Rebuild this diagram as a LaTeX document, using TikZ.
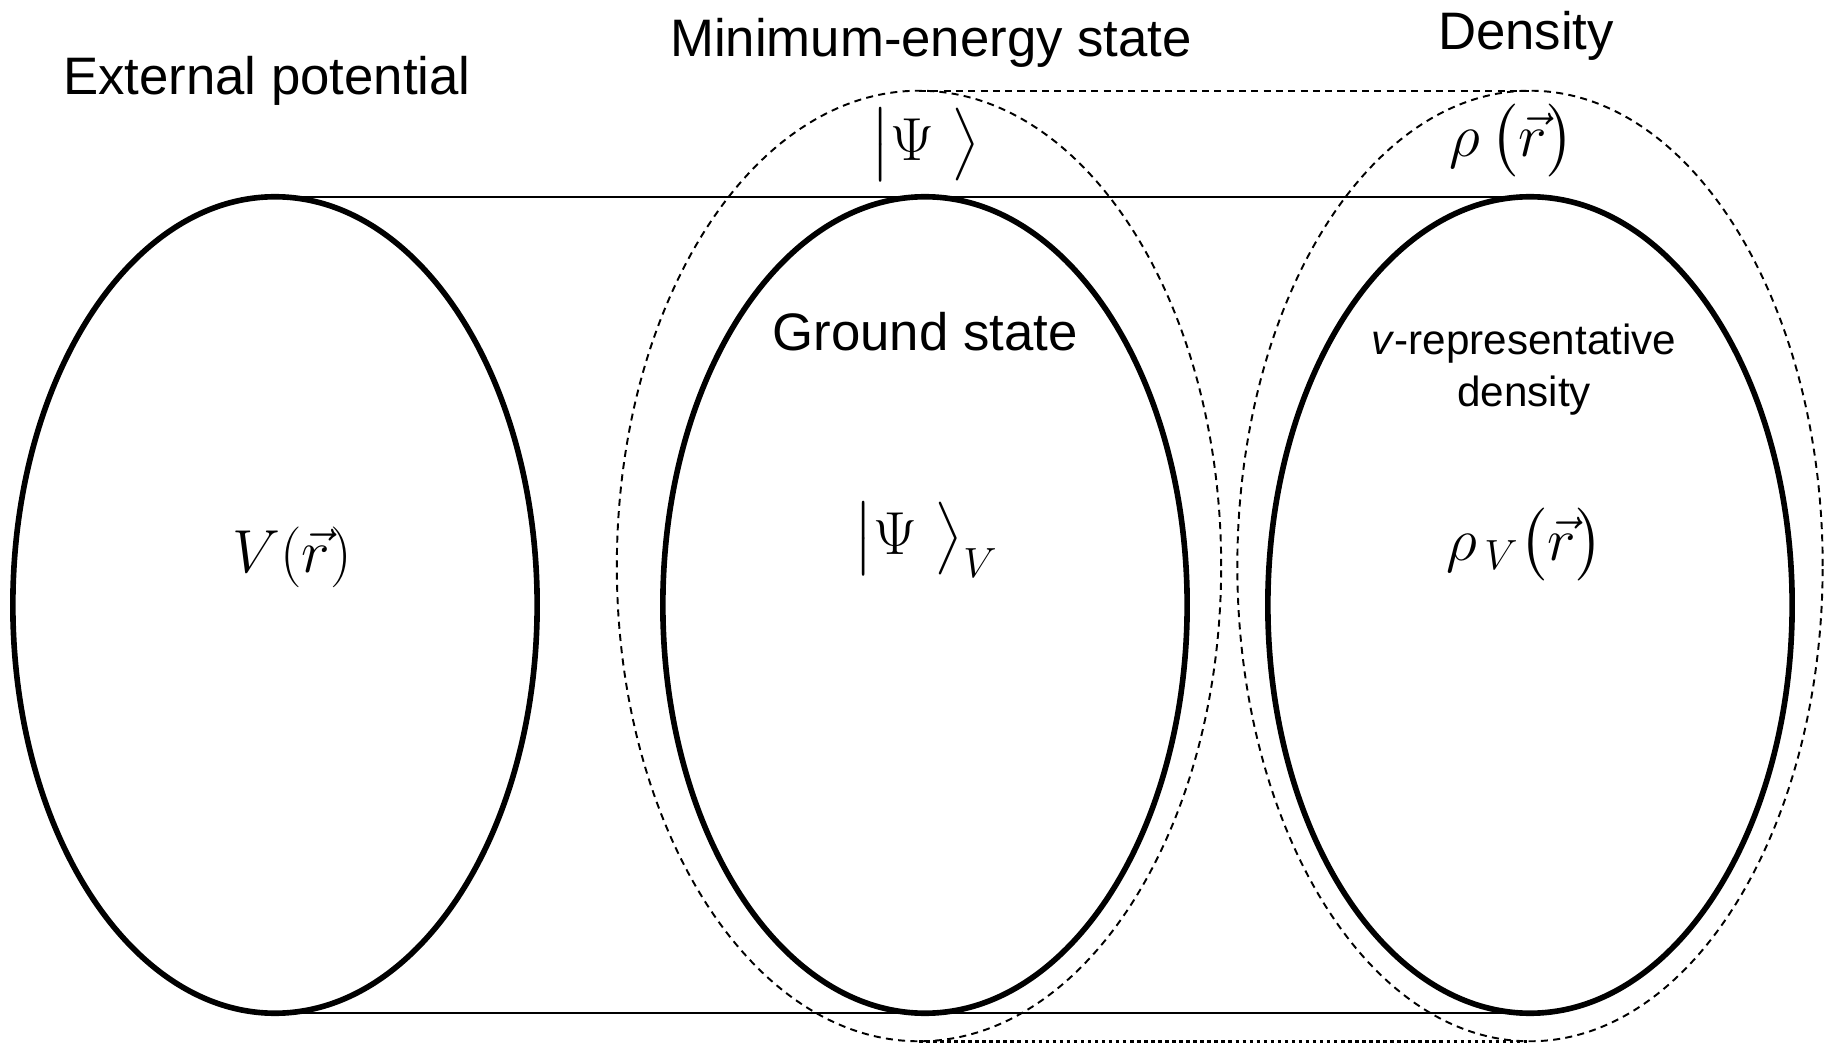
\documentclass[tikz,border=0pt]{standalone}
\usepackage{amsmath}
\usepackage{fontspec}
\setmainfont{Liberation Sans}
\usetikzlibrary{shapes.geometric}
\begin{document}
\begin{tikzpicture}[x=0.01cm,y=-0.01cm,
    set/.style={draw, ellipse, line width=1.6pt, minimum width=5.24cm, minimum height=8.16cm, inner sep=0pt, outer sep=0pt},
    group/.style={draw, ellipse, line width=0.55pt, dash pattern=on 2pt off 1.5pt, minimum height=9.5cm, inner sep=0pt, outer sep=0pt},
    title/.style={font=\fontsize{15}{18}\selectfont, anchor=base},
    formula/.style={font=\fontsize{18}{22}\selectfont}]
    \useasboundingbox (0,0) rectangle (1824,1046);

    %groups (dashed)
    \node[group, minimum width=6.04cm] (minE) at (919,566) {};
    \node[group, minimum width=5.85cm] (dens) at (1530,566) {};
    \draw[line width=0.55pt, dash pattern=on 2pt off 1.5pt] (minE.north) -- (dens.north);
    \draw[line width=1pt, dash pattern=on 1pt off 1pt] (minE.south) -- (dens.south);

    %sets (solid)
    \node[set] (pot) at (275,605) {};
    \node[set] (gs) at (925,605) {};
    \node[set] (vrep) at (1530,605) {};
    \draw[line width=0.6pt] (pot.north) -- (vrep.north);
    \draw[line width=0.6pt] (pot.south) -- (vrep.south);

    %titles
    \node[title] (potT) at (267,95) {External potential};
    \node[title] (minT) at (931,57) {Minimum-energy state};
    \node[title] (densT) at (1526,50) {Density};
    \node[title] (gsT) at (925,351) {Ground state};
    \node[title, font=\fontsize{12}{15}\selectfont] (vrepT) at (1524,355) {\textit{v}-representative};
    \node[title, font=\fontsize{12}{15}\selectfont] (vrepT2) at (1524,407) {density};

    %formulas
    \node[formula] (potF) at (292,557) {$V(\vec r)$};
    \node[formula] (minF) at (925,145) {$\bigl|\Psi\;\bigr\rangle$};
    \node[formula] (gsF) at (926,540) {$\bigl|\Psi\;\bigr\rangle_{V}$};
    \node[formula] (densF) at (1512,141) {$\rho\,\bigl(\vec r\bigr)$};
    \node[formula] (vrepF) at (1525,545) {$\rho_{\,V}\bigl(\vec r\bigr)$};
\end{tikzpicture}
\end{document}
